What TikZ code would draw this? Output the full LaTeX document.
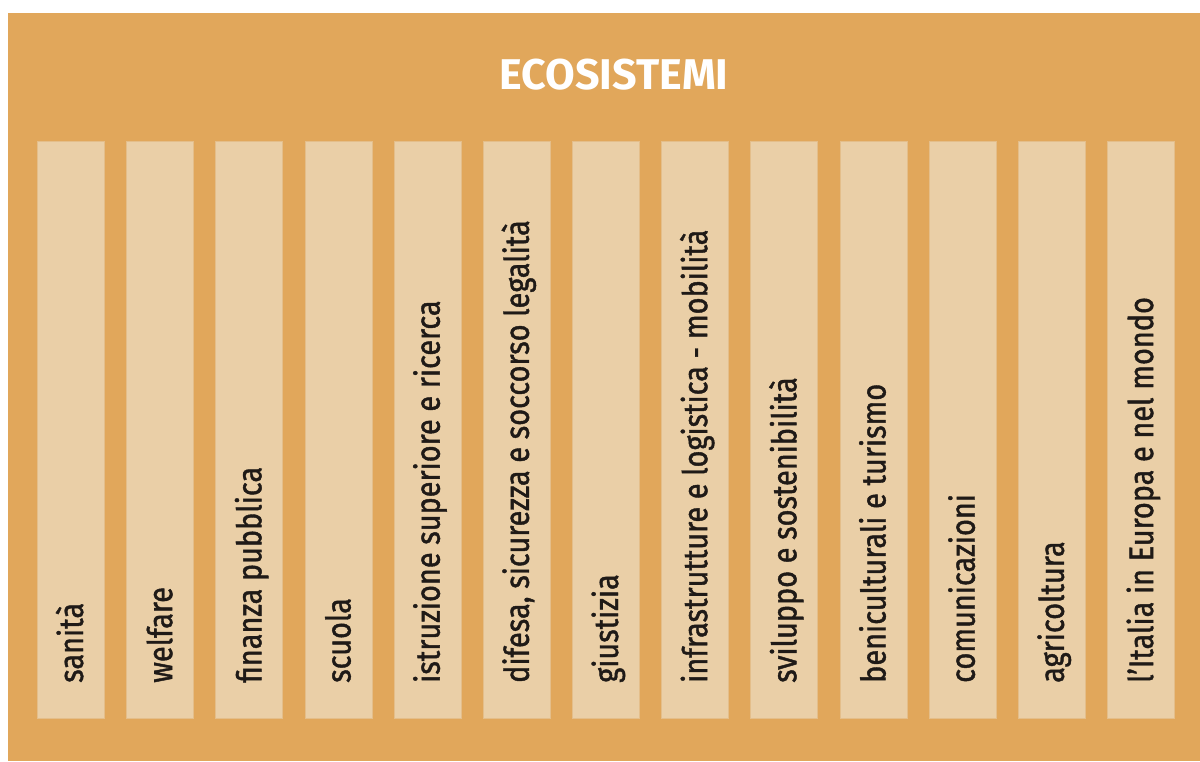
\documentclass[tikz,border=0pt]{standalone}
\usepackage{fontspec}
\setmainfont{Fira Sans}
\newfontfamily\sectorfont{Fira Sans}[FakeStretch=0.85,FakeBold=1.2]
\definecolor{ecoorange}{HTML}{E1A75B}
\definecolor{ecopale}{HTML}{EACFA7}
\definecolor{ecoedge}{HTML}{E4BE8A}
\definecolor{ecoink}{HTML}{1F1A17}
\tikzset{
  ecoframe/.style={rectangle,fill=ecoorange,inner sep=0pt,minimum width=1192pt,minimum height=748pt},
  headline/.style={text=white,inner sep=0pt,font=\fontsize{43}{50}\selectfont\bfseries},
  pillar/.style={rectangle,fill=ecopale,draw=ecoedge,line width=0.8pt,inner sep=0pt,minimum width=67pt,minimum height=577pt},
  sector/.style={text=ecoink,inner sep=0pt,rotate=90,font=\sectorfont\fontsize{34}{40}\selectfont}
}
\begin{document}
\begin{tikzpicture}[x=1pt,y=1pt]
    \useasboundingbox (0,0) rectangle (1200,761);
    \node[ecoframe] (eco) at (604,374) {};
    \node[headline,anchor=base] (head) at (614,671) {ECOSISTEMI};
    \def\ecos{sanità,welfare,finanza pubblica,scuola,istruzione superiore e ricerca,{difesa, sicurezza e soccorso legalità},giustizia,infrastrutture e logistica - mobilità,sviluppo e sostenibilità,beniculturali e turismo,comunicazioni,agricoltura,l’Italia in Europa e nel mondo}
    \foreach \e [count=\i from 0] in \ecos {\node[pillar,anchor=south west] (c\i) at (37+89.17*\i,42) {};}
    \foreach \e [count=\i from 0] in \ecos {\node[sector,anchor=base west] (t\i) at (83+89.17*\i,78) {\e};}
  \end{tikzpicture}
\end{document}
